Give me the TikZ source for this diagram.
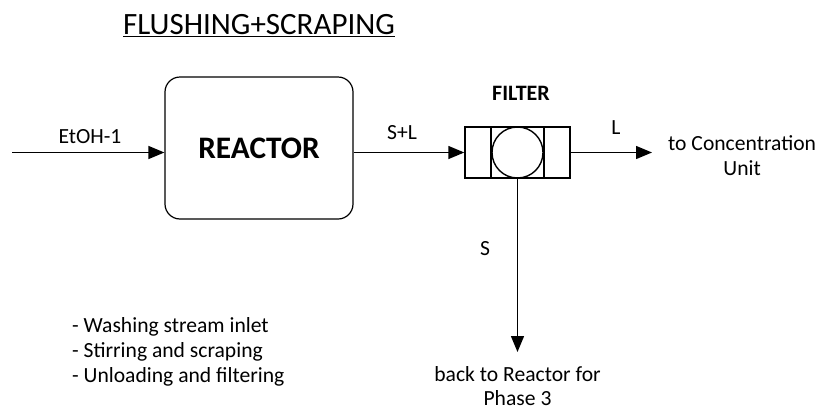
\documentclass[tikz,border=0pt]{standalone}
\usepackage{fontspec}
\setmainfont{Carlito}
\usetikzlibrary{positioning}
\usetikzlibrary{arrows.meta}
\tikzset{>={Triangle[length=16pt,width=13pt]}}
\tikzset{flow/.style={line width=1.4pt}}
\tikzset{lbl/.style={inner sep=1pt,font=\fontsize{21.6}{25}\selectfont}}
\tikzset{reactorbox/.style={draw,line width=1.2pt,rounded corners=15pt,minimum width=188pt,minimum height=142pt,font=\fontsize{31.3}{34}\selectfont\bfseries}}
\tikzset{filterbox/.style={draw,line width=1.4pt,minimum width=105pt,minimum height=51pt,inner sep=0pt}}

\begin{document}
\begin{tikzpicture}[x=1pt,y=-1pt]
\useasboundingbox (0,0) rectangle (817,410);

\node[font=\fontsize{31}{34}\selectfont] (title) at (259,26) {\underline{FLUSHING+SCRAPING}};

\node[reactorbox] (reactor) at (259,148) {REACTOR};
\node[filterbox] (filter) at (517.5,152.5) {};
\node[filterbox,minimum width=53pt] (core) at (filter) {};
\node[draw,circle,line width=1.4pt,minimum size=51pt,inner sep=0pt] (drum) at (filter) {};
\node[lbl,font=\fontsize{22}{25}\selectfont\bfseries] (filterlbl) at (521,93) {FILTER};

\coordinate (in) at (12,152.5);
\coordinate (out) at (652,152.5);
\coordinate (sink) at (517.5,352);

\draw[flow,->] (in) -- (in -| reactor.west);
\draw[flow,->] (reactor.east |- filter.west) -- (filter.west);
\draw[flow,->] (filter.east) -- (out);
\draw[flow,->] (filter.south) -- (sink);

\node[lbl] (etoh) at (90,137) {EtOH-1};
\node[lbl] (sl) at (402,133) {S+L};
\node[lbl] (l) at (616,128) {L};
\node[lbl] (s) at (485,249) {S};

\node[lbl,align=center,anchor=west] (conc) at (667,156) {to Concentration\\Unit};
\node[lbl,font=\fontsize{21.6}{24}\selectfont,align=center,anchor=north,inner sep=0pt] (back) [below=14pt of sink] {back to Reactor for\\Phase 3};

\node[lbl,align=left,anchor=north west,inner sep=0pt] (steps) at (72,317) {- Washing stream inlet\\- Stirring and scraping\\- Unloading and filtering};
\end{tikzpicture}
\end{document}
